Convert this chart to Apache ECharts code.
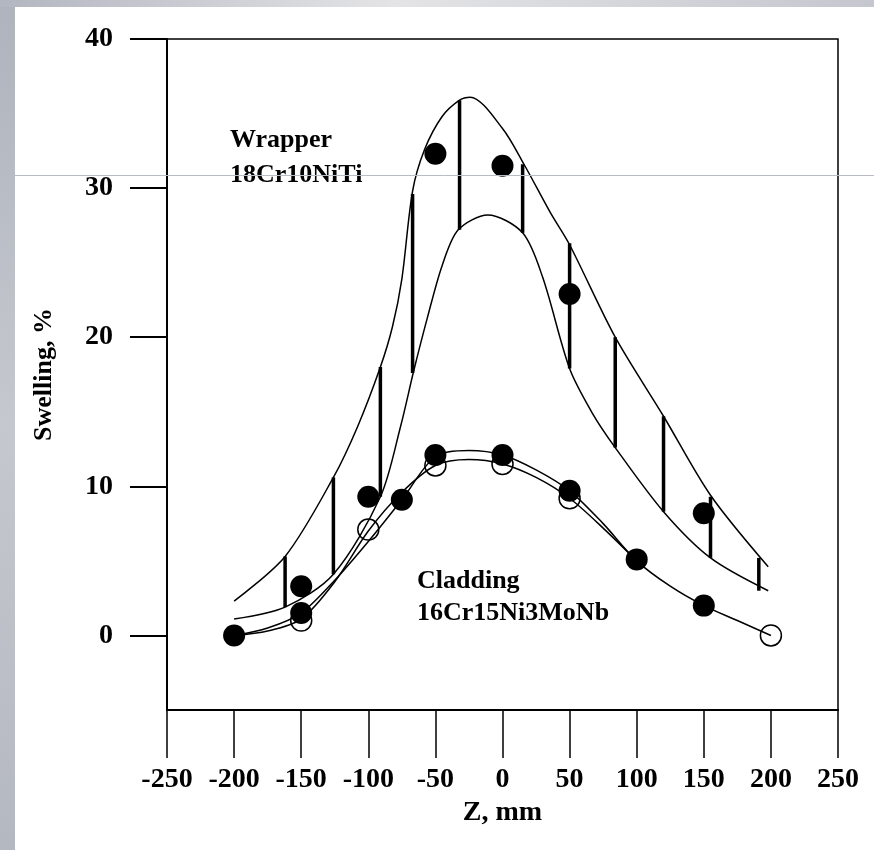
<!DOCTYPE html>
<html>
<head>
<meta charset="utf-8">
<script src="https://cdn.jsdelivr.net/npm/echarts@6/dist/echarts.min.js"></script>
<style>
  html, body { margin: 0; padding: 0; background: #fff; }
  #chart { width: 874px; height: 850px; }
</style>
</head>
<body>
<div id="chart"></div>
<script>
// axis ticks
const zTicks = [-250, -200, -150, -100, -50, 0, 50, 100, 150, 200, 250]
const swellTicks = [0, 10, 20, 30, 40]

// wrapper 18Cr10NiTi - measured points
const wrapperZ = [-150, -100, -50, 0, 50, 150]
const wrapperSwell = [3.3, 9.3, 32.3, 31.5, 22.9, 8.2]

// wrapper scatter band (upper / lower envelope)
const upperZ = [-200, -162, -126, -108, -91, -82, -75, -67, -58, -45, -32, -24, 0, 16, 36, 50, 84, 120, 155, 198]
const upperSwell = [2.3, 5.3, 10.6, 14.0, 18.0, 20.7, 23.9, 29.8, 32.6, 34.8, 35.9, 36.1, 34.0, 31.6, 28.3, 26.2, 20.0, 14.7, 9.4, 4.6]
const lowerZ = [-200, -162, -126, -91, -76, -66, -56, -45, -33, -11, 15, 30, 50, 67, 84, 120, 155, 198]
const lowerSwell = [1.1, 1.9, 4.1, 9.3, 14.0, 17.8, 21.3, 24.8, 27.2, 28.2, 27.0, 24.0, 17.9, 14.9, 12.6, 8.3, 5.2, 3.0]

// vertical scatter bars of the wrapper
const barZ = [-162, -126, -91, -67, -32, 15, 50, 84, 120, 155, 191]
const barLow = [1.9, 4.1, 9.3, 17.6, 27.2, 27.0, 17.9, 12.6, 8.3, 5.2, 3.0]
const barHigh = [5.3, 10.6, 18.0, 29.6, 35.9, 31.6, 26.3, 20.0, 14.7, 9.3, 5.2]

// cladding 16Cr15Ni3MoNb - filled and open points
const cladFilledZ = [-200, -150, -75, -50, 0, 50, 100, 150]
const cladFilledSwell = [0, 1.5, 9.1, 12.1, 12.1, 9.7, 5.1, 2.0]
const cladOpenZ = [-150, -100, -50, 0, 50, 200]
const cladOpenSwell = [1.0, 7.1, 11.4, 11.5, 9.2, 0]

// cladding fitted curves
const fitFilledZ = [-200, -175, -150, -125, -100, -75, -50, -25, 0, 25, 50, 75, 100, 125, 150, 175, 200]
const fitFilledSwell = [0, 0.5, 1.5, 3.7, 6.3, 9.1, 12.0, 12.4, 12.1, 11.1, 9.7, 7.5, 5.0, 3.3, 2.0, 1.0, 0]
const fitOpenZ = [-200, -175, -150, -125, -100, -75, -50, -25, 0, 25, 50, 75, 100]
const fitOpenSwell = [0, 0.3, 1.1, 3.6, 7.0, 9.6, 11.4, 11.8, 11.5, 10.6, 9.2, 7.2, 5.0]

const pairs = (xs, ys) => xs.map((x, i) => [x, ys[i]])

const serif = '"Liberation Serif", "DejaVu Serif", serif'
const chart = echarts.init(document.getElementById('chart'))

const curve = (xs, ys) => ({
  type: 'line',
  data: pairs(xs, ys),
  smooth: 0.3,
  showSymbol: false,
  lineStyle: { color: '#000', width: 1.5 },
  z: 2
})

const option = {
  animation: false,
  backgroundColor: '#fff',
  grid: {
    left: 167, right: 36, top: 39, bottom: 140,
    outerBoundsMode: 'none',
    show: true, borderColor: '#000', borderWidth: 1.5
  },
  xAxis: {
    type: 'value',
    min: -250, max: 250, interval: 50,
    name: 'Z, mm',
    nameLocation: 'middle',
    nameGap: 84,
    nameTextStyle: { fontFamily: serif, fontSize: 28, fontWeight: 'bold', color: '#000' },
    axisLine: { onZero: false, lineStyle: { color: '#000', width: 2 } },
    axisTick: { inside: false, length: 48, lineStyle: { color: '#000', width: 1.5 } },
    axisLabel: {
      margin: 56, showMinLabel: true, showMaxLabel: true,
      fontFamily: serif, fontSize: 28, fontWeight: 'bold', color: '#000',
      customValues: zTicks
    },
    splitLine: { show: false }
  },
  yAxis: {
    type: 'value',
    min: -5, max: 40,
    name: 'Swelling, %',
    nameLocation: 'middle',
    nameRotate: 90,
    nameGap: 110,
    nameTextStyle: { fontFamily: serif, fontSize: 26, fontWeight: 'bold', color: '#000' },
    axisLine: { onZero: false, lineStyle: { color: '#000', width: 2 } },
    axisTick: { inside: false, length: 37, lineStyle: { color: '#000', width: 2 }, customValues: swellTicks },
    axisLabel: {
      margin: 54,
      fontFamily: serif, fontSize: 28, fontWeight: 'bold', color: '#000',
      customValues: swellTicks
    },
    splitLine: { show: false }
  },
  graphic: [
    // scanned page frame
    {
      type: 'rect', shape: { x: 0, y: 0, width: 15, height: 850 }, z: -10,
      style: { fill: new echarts.graphic.LinearGradient(0, 0, 0, 1, [
        { offset: 0, color: '#aeb3bd' }, { offset: 0.5, color: '#c5c8ce' }, { offset: 1, color: '#b4b8c1' }
      ]) }
    },
    {
      type: 'rect', shape: { x: 0, y: 0, width: 874, height: 7 }, z: -10,
      style: { fill: new echarts.graphic.LinearGradient(0, 0, 1, 0, [
        { offset: 0, color: '#b2b6c0' }, { offset: 0.45, color: '#e4e4e6' }, { offset: 1, color: '#c4c7ce' }
      ]) }
    },
    {
      type: 'line', shape: { x1: 15, y1: 175.5, x2: 874, y2: 175.5 }, z: 100,
      style: { stroke: '#b8bcc5', lineWidth: 1 }
    },
    {
      type: 'text', left: 230, top: 123, z: 50,
      style: { text: 'Wrapper\n18Cr10NiTi', fontFamily: serif, fontSize: 26, fontWeight: 'bold', fill: '#000', lineHeight: 35 }
    },
    {
      type: 'text', left: 417, top: 565, z: 50,
      style: { text: 'Cladding\n16Cr15Ni3MoNb', fontFamily: serif, fontSize: 26, fontWeight: 'bold', fill: '#000', lineHeight: 32 }
    }
  ],
  series: [
    curve(upperZ, upperSwell),
    curve(lowerZ, lowerSwell),
    curve(fitFilledZ, fitFilledSwell),
    curve(fitOpenZ, fitOpenSwell),
    {
      type: 'custom',
      data: barZ.map((z, i) => [z, barLow[i], barHigh[i]]),
      renderItem: (params, api) => {
        const p1 = api.coord([api.value(0), api.value(1)])
        const p2 = api.coord([api.value(0), api.value(2)])
        return {
          type: 'line',
          shape: { x1: p1[0], y1: p1[1], x2: p2[0], y2: p2[1] },
          style: { stroke: '#000', lineWidth: 3.5 }
        }
      },
      z: 3
    },
    {
      type: 'scatter',
      data: pairs(cladOpenZ, cladOpenSwell),
      symbol: 'circle', symbolSize: 21,
      itemStyle: { color: 'rgba(0,0,0,0)', borderColor: '#000', borderWidth: 1.5, opacity: 1 },
      z: 4
    },
    {
      type: 'scatter',
      data: pairs(cladFilledZ, cladFilledSwell),
      symbol: 'circle', symbolSize: 22,
      itemStyle: { color: '#000', opacity: 1 },
      z: 5
    },
    {
      type: 'scatter',
      data: pairs(wrapperZ, wrapperSwell),
      symbol: 'circle', symbolSize: 22,
      itemStyle: { color: '#000', opacity: 1 },
      z: 5
    }
  ]
}

chart.setOption(option)
</script>
</body>
</html>
